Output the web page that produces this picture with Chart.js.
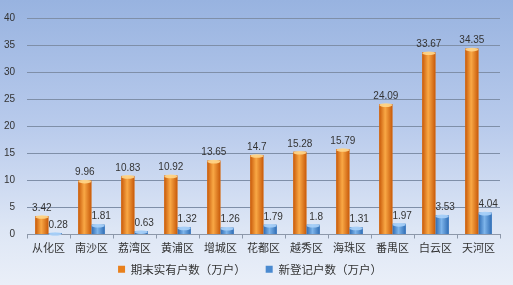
<!DOCTYPE html>
<html>
<head>
<meta charset="utf-8">
<script src="https://cdn.jsdelivr.net/npm/chart.js@4.4.0/dist/chart.umd.min.js"></script>
<style>
  body { margin: 0; background: #fff; }
  #wrap {
    width: 513px; height: 285px; position: relative;
    background: linear-gradient(to bottom, #98b3e0 0%, #b9cbec 45%, #dde6f5 80%, #eaeff8 100%);
  }
</style>
</head>
<body>
<div id="wrap"><canvas id="myChart" width="513" height="285"></canvas></div>
<script>
// categories (districts)
const districts = ['从化区', '南沙区', '荔湾区', '黄浦区', '增城区', '花都区', '越秀区', '海珠区', '番禺区', '白云区', '天河区'];
// 期末实有户数
const totalHouseholds = [3.42, 9.96, 10.83, 10.92, 13.65, 14.7, 15.28, 15.79, 24.09, 33.67, 34.35];
// 新登记户数
const newHouseholds = [0.28, 1.81, 0.63, 1.32, 1.26, 1.79, 1.8, 1.31, 1.97, 3.53, 4.04];
const yTicks = [0, 5, 10, 15, 20, 25, 30, 35, 40];

const barShades = [
    ['#c85a0a', '#f9a845', '#c85a0a'], // orange
    ['#2f6db5', '#7db4ea', '#2f6db5']  // blue
];

// shading + value labels on the bars
const barExtras = {
    id: 'barExtras',
    afterDatasetsDraw(chart) {
        const ctx = chart.ctx;
        chart.data.datasets.forEach((ds, i) => {
            const meta = chart.getDatasetMeta(i);
            meta.data.forEach((bar, j) => {
                const p = bar.getProps(['x', 'y', 'base', 'width'], true);
                const left = p.x - p.width / 2;
                const g = ctx.createLinearGradient(left, 0, left + p.width, 0);
                g.addColorStop(0, barShades[i][0]);
                g.addColorStop(0.45, barShades[i][1]);
                g.addColorStop(1, barShades[i][2]);
                ctx.save();
                ctx.fillStyle = g;
                ctx.fillRect(left, p.y, p.width, p.base - p.y);
                // top cap
                ctx.fillStyle = i == 0 ? 'rgba(255,215,140,0.9)' : 'rgba(170,210,250,0.9)';
                ctx.beginPath();
                ctx.ellipse(p.x, p.y + 1, p.width / 2, 1.8, 0, 0, Math.PI * 2);
                ctx.fill();
                // value label
                ctx.fillStyle = '#333';
                ctx.font = '10px "Liberation Sans", Arial, sans-serif';
                ctx.textAlign = 'center';
                ctx.textBaseline = 'bottom';
                const dx = i == 1 ? 3 : 0;
                ctx.fillText(String(ds.data[j]), p.x + dx, p.y - 3);
                ctx.restore();
            });
        });
    }
};

const data = {
    labels: districts,
    datasets: [{
            label: '期末实有户数（万户）',
            backgroundColor: '#e8801c',
            borderWidth: 0,
            data: totalHouseholds,
        },
        {
            label: '新登记户数（万户）',
            backgroundColor: '#4a8ad0',
            borderWidth: 0,
            data: newHouseholds,
        }
    ]
};

const config = {
    type: 'bar',
    data: data,
    options: {
        responsive: false,
        animation: false,
        datasets: {
            bar: { categoryPercentage: 0.62, barPercentage: 0.98 }
        },
        layout: { padding: { top: 13, right: 13, left: 0, bottom: 0 } },
        plugins: {
            tooltip: { enabled: false },
            legend: {
                position: 'bottom',
                labels: {
                    boxWidth: 7,
                    boxHeight: 7,
                    padding: 7,
                    color: '#333',
                    font: { size: 11.5, family: '"Noto Sans CJK SC", sans-serif' },
                    generateLabels(chart) {
                        const items = Chart.defaults.plugins.legend.labels.generateLabels(chart);
                        items[0].text = items[0].text + '     ';
                        return items;
                    }
                }
            }
        },
        scales: {
            x: {
                grid: { offset: true, drawOnChartArea: false, drawTicks: true, tickLength: 4, color: '#8d98aa' },
                border: { display: true, color: '#8d98aa' },
                ticks: {
                    color: '#333',
                    padding: 3,
                    font: { size: 11, family: '"Noto Sans CJK SC", sans-serif' }
                },
                afterFit(scale) { scale.height = 22; }
            },
            y: {
                min: 0,
                max: 40,
                afterBuildTicks(scale) { scale.ticks = yTicks.map(v => ({ value: v })); },
                grid: { drawTicks: false, color: '#7f8fa8' },
                border: { display: false },
                ticks: {
                    color: '#333',
                    padding: 12,
                    font: { size: 10, family: '"Liberation Sans", Arial, sans-serif' }
                },
                afterFit(scale) { scale.width = 27; }
            }
        }
    },
    plugins: [barExtras]
};

const myChart = new Chart(document.getElementById('myChart'), config);
</script>
</body>
</html>
